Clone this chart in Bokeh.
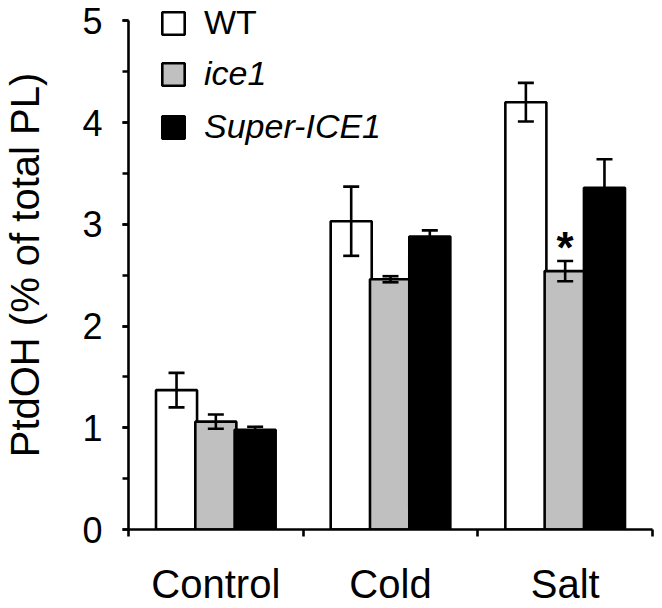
from bokeh.plotting import figure
from bokeh.models import (ColumnDataSource, Range1d, FixedTicker, SingleIntervalTicker,
                          Whisker, TeeHead, Legend, LegendItem)
from bokeh.embed import file_html
from bokeh.resources import INLINE
from bokeh.core.properties import value

# ---- data ----
categories = ["Control", "Cold", "Salt"]
series = ["WT", "ice1", "Super-ICE1"]
wt = [1.37, 3.03, 4.20]
wt_err = [0.17, 0.34, 0.19]
ice1 = [1.06, 2.46, 2.54]
ice1_err = [0.07, 0.03, 0.10]
super_ice1 = [0.98, 2.88, 3.36]
super_err = [0.03, 0.06, 0.28]
significance = ["", "", "*"]          # ice1 marked against WT
y_ticks = [0, 1, 2, 3, 4, 5]

# ---- style ----
FONT = "Liberation Sans"
fills = ["white", "#c0c0c0", "black"]
offsets = [-0.225, 0.0, 0.225]
bar_w = 0.235
LW = 2.6
HEADROOM = 0.2   # empty space above the axis top, room for the legend

p = figure(width=662, height=608, output_backend="svg", toolbar_location=None,
           x_range=Range1d(0, len(categories)),
           y_range=Range1d(y_ticks[0], y_ticks[-1] + HEADROOM),
           min_border_left=124, min_border_top=0, min_border_right=10, min_border_bottom=78)
p.outline_line_color = None
p.grid.visible = False
p.background_fill_color = "white"

centers = [i + 0.5 for i in range(len(categories))]
renderers = []
for vals, errs, fill, off in zip([wt, ice1, super_ice1], [wt_err, ice1_err, super_err], fills, offsets):
    src = ColumnDataSource(dict(
        x=[c + off for c in centers],
        top=vals,
        upper=[v + e for v, e in zip(vals, errs)],
        lower=[v - e for v, e in zip(vals, errs)],
    ))
    r = p.vbar(x="x", top="top", bottom=0, width=bar_w, source=src,
               fill_color=fill, line_color="black", line_width=LW)
    renderers.append(r)
    wh = Whisker(source=src, base="x", upper="upper", lower="lower", level="annotation",
                 line_color="black", line_width=LW,
                 upper_head=TeeHead(size=16, line_width=LW, line_color="black"),
                 lower_head=TeeHead(size=16, line_width=LW, line_color="black"))
    p.add_layout(wh)

# significance asterisk above ice1 bars
sx, sy, st = [], [], []
for i, s in enumerate(significance):
    if s:
        sx.append(centers[i] + offsets[1])
        sy.append(ice1[i] + ice1_err[i])
        st.append(s)
p.text(x=sx, y=sy, text=st, text_align="center", text_baseline="alphabetic", y_offset=-13,
       text_font=value(FONT), text_font_size="44px", text_font_style="bold", text_color="black")

# ---- axes ----
xa = p.xaxis[0]
xa.ticker = FixedTicker(ticks=centers, minor_ticks=list(range(len(categories) + 1)))
xa.major_label_overrides = {c: name for c, name in zip(centers, categories)}
xa.major_tick_out = 0
xa.major_tick_in = 0
xa.minor_tick_out = 7
xa.minor_tick_in = 0
xa.minor_tick_line_width = LW
xa.axis_line_width = LW
xa.major_label_text_font = FONT
xa.major_label_text_font_size = "40px"
xa.major_label_text_color = "black"
xa.major_label_standoff = 25

ya = p.yaxis[0]
ya.ticker = SingleIntervalTicker(interval=1, num_minor_ticks=2)
ya.bounds = (y_ticks[0], y_ticks[-1])
ya.major_tick_out = 6
ya.major_tick_in = 0
ya.minor_tick_out = 6
ya.minor_tick_in = 0
ya.major_tick_line_width = LW
ya.minor_tick_line_width = LW
ya.axis_line_width = LW
ya.major_label_text_font = FONT
ya.major_label_text_font_size = "36px"
ya.major_label_text_color = "black"
ya.major_label_standoff = 20
ya.axis_label = "PtdOH (% of total PL)"
ya.axis_label_text_font = FONT
ya.axis_label_text_font_size = "40px"
ya.axis_label_text_font_style = "normal"
ya.axis_label_text_color = "black"
ya.axis_label_standoff = 32

# ---- legends ----
common = dict(glyph_width=28, glyph_height=28, label_height=28, label_standoff=17,
              spacing=14, padding=0, margin=0, border_line_color=None,
              background_fill_alpha=0, label_text_font=FONT,
              label_text_font_size="34px", label_text_color="black")
leg1 = Legend(items=[LegendItem(label=series[0], renderers=[renderers[0]])],
              location=(31, 487), label_text_font_style="normal", **common)
leg2 = Legend(items=[LegendItem(label=series[1], renderers=[renderers[1]]),
                     LegendItem(label=series[2], renderers=[renderers[2]])],
              location=(31, 383), label_text_font_style="italic", **common)
p.add_layout(leg1)
p.add_layout(leg2)

open("out.html", "w").write(file_html(p, INLINE))
